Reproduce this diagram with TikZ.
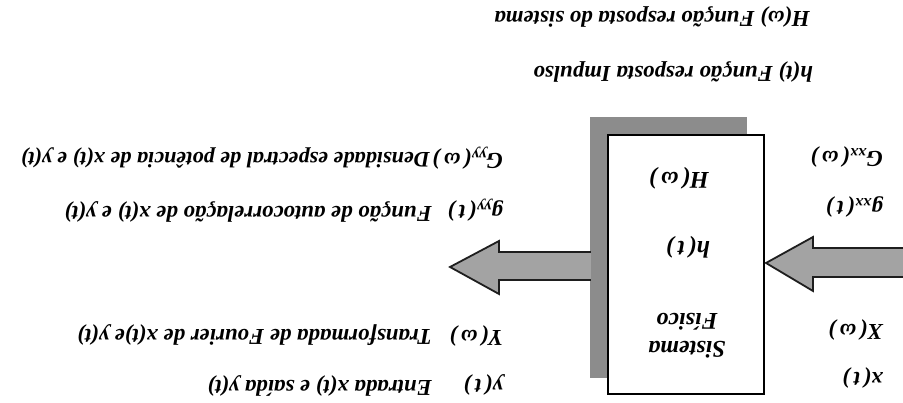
\documentclass[tikz,border=0pt]{standalone}
\usepackage{fontspec}
\setmainfont{Liberation Serif}
\definecolor{shadowgray}{HTML}{8C8C8C}
\definecolor{arrowgray}{HTML}{A3A3A3}
\definecolor{arrowline}{HTML}{1E1E1E}
\begin{document}
\begin{tikzpicture}[x=1pt,y=-1pt,rotate=180,transform shape,
  lbl/.style={font=\fontsize{22.8}{27}\selectfont\bfseries\itshape,anchor=west,inner sep=0pt},
  boxtxt/.style={font=\fontsize{24}{29}\selectfont\bfseries\itshape,inner sep=0pt,align=center},
  blockarrow/.style={draw=arrowline,line width=1.8pt,fill=arrowgray,line join=miter}]
\useasboundingbox (0,0) rectangle (903,403);
% shadow and system box
\fill[shadowgray] (156,25) rectangle (313,286);
\draw[line width=1.3pt,fill=white] (139,9) rectangle (295,268);
\node[boxtxt] (sis) at (216,53) {Sistema};
\node[boxtxt] (fis) at (216,81) {Físico};
\node[boxtxt] (ht) at (215,156) {h(\,t\,)};
\node[boxtxt] (Hw) at (224,225) {H(\,ω\,)};
% input block arrow
\draw[blockarrow] (-2,126) -- (90,126) -- (90,112) -- (137,140) -- (90,166) -- (90,155) -- (-2,155);
% output block arrow
\draw[blockarrow] (312,123) -- (404,123) -- (404,109) -- (453,136) -- (404,162) -- (404,151) -- (312,151);
% input labels
\node[lbl] (xt) at (20,25) {x(\,t\,)};
\node[lbl] (Xw) at (20,73) {X(\,ω\,)};
\node[lbl] (gxx) at (20,196) {g\textsubscript{xx}(\,t\,)};
\node[lbl] (Gxx) at (20,246) {G\textsubscript{xx}(\,ω\,)};
% output labels
\node[lbl] (yt) at (400,18) {y(\,t\,)};
\node[lbl] (Yw) at (400,67) {Y(\,ω\,)};
\node[lbl] (gyy) at (400,193) {g\textsubscript{yy}(\,t\,)};
\node[lbl] (Gyy) at (400,245) {G\textsubscript{yy}(\,ω\,)};
\node[lbl] (d1) at (471,17) {Entrada x(t) e saída y(t)};
\node[lbl] (d2) at (471,68) {Transformada de Fourier de x(t)e y(t)};
\node[lbl] (d3) at (471,191) {Função de autocorrelação de x(t) e y(t)};
\node[lbl,font=\fontsize{22.2}{27}\selectfont\bfseries\itshape] (d4) at (473,245) {Densidade espectral de potência de x(t) e y(t)};
% bottom notes
\node[lbl] (n1) at (90,331) {h(t) Função resposta Impulso};
\node[lbl] (n2) at (93,386) {H(ω) Função resposta do sistema};
\end{tikzpicture}
\end{document}
